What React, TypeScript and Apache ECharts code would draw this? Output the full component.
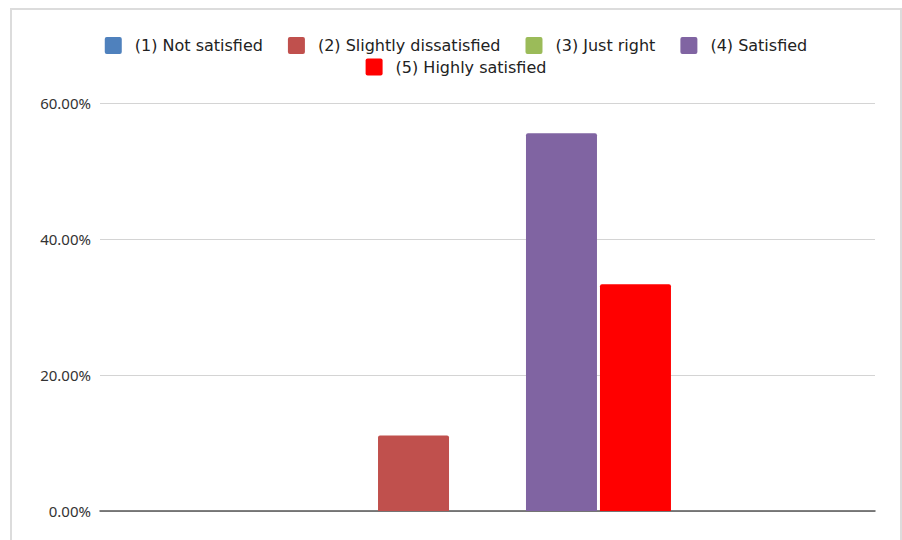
import React, { useEffect, useRef } from "react";
import * as echarts from "echarts";

const categories = [""];
const seriesNames = [
  "(1) Not satisfied",
  "(2) Slightly dissatisfied",
  "(3) Just right",
  "(4) Satisfied",
  "(5) Highly satisfied",
];
const seriesValues = [0, 11.11, 0, 55.56, 33.33];
const seriesColors = ["#4f81bd", "#c0504d", "#9bbb59", "#8064a2", "#ff0000"];
const yTicks = { min: 0, max: 60, interval: 20 };

const legendIcon =
  "path://M2,0 H15 Q17,0 17,2 V15 Q17,17 15,17 H2 Q0,17 0,15 V2 Q0,0 2,0 Z";

export default function App() {
  const ref = useRef<HTMLDivElement>(null);
  useEffect(() => {
    if (!ref.current) return;
    const chart = echarts.init(ref.current, undefined, { renderer: "svg" });
    const legendText = {
      fontFamily: "DejaVu Sans",
      fontSize: 16,
      lineHeight: 17,
      color: "#222",
      padding: [0, 0, 0, 8],
    };
    const legendBase = {
      left: "center",
      padding: 0,
      itemWidth: 17,
      itemHeight: 17,
      itemGap: 25,
      icon: legendIcon,
      textStyle: legendText,
    };
    chart.setOption({
      animation: false,
      backgroundColor: "#fff",
      graphic: [
        {
          type: "rect",
          shape: { x: 1, y: 1, width: 890, height: 600 },
          style: { fill: "none", stroke: "#dcdcdc", lineWidth: 2 },
          silent: true,
        },
      ],
      legend: [
        { ...legendBase, data: seriesNames.slice(0, 4), top: 29 },
        { ...legendBase, data: seriesNames.slice(4), top: 50.5 },
      ],
      grid: { left: 90, right: 27, top: 95, bottom: 29, containLabel: false },
      xAxis: {
        type: "category",
        data: categories,
        axisLine: { show: true, lineStyle: { color: "#555", width: 1.5 } },
        axisTick: { show: false },
        axisLabel: { show: false },
      },
      yAxis: {
        type: "value",
        min: yTicks.min,
        max: yTicks.max,
        interval: yTicks.interval,
        axisLine: { show: false },
        axisTick: { show: false },
        splitLine: { lineStyle: { color: "#d4d4d4", width: 1 } },
        axisLabel: {
          formatter: (v: number) => v.toFixed(2) + "%",
          fontFamily: "Noto Sans",
          fontSize: 15,
          color: "#333",
          margin: 9,
        },
      },
      series: seriesNames.map((name, i) => ({
        name,
        type: "bar",
        data: [seriesValues[i]],
        barWidth: 71,
        barGap: "4.2%",
        itemStyle: { color: seriesColors[i], borderRadius: [2, 2, 0, 0] },
      })),
    });
    return () => chart.dispose();
  }, []);
  return (
    <div
      ref={ref}
      style={{ position: "absolute", left: 10, top: 8, width: 892, height: 532 }}
    />
  );
}
